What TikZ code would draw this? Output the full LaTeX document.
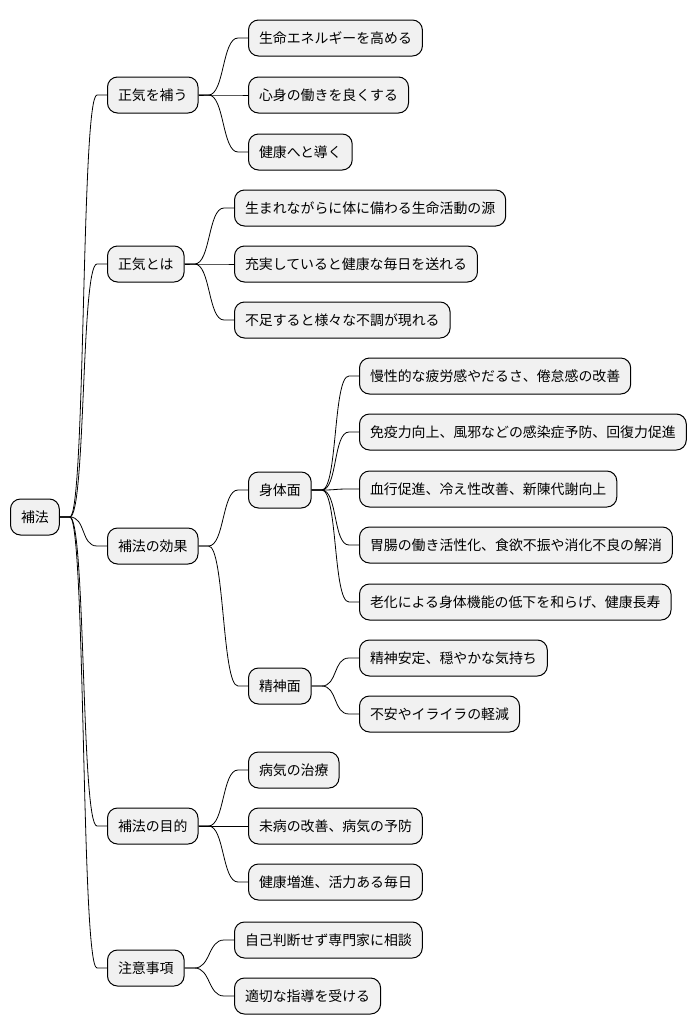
\documentclass[tikz,border=0pt]{standalone}
\usepackage{fontspec}
\newfontfamily\jpfont{Noto Sans CJK JP}
\usepackage{xcolor}
\usepackage{tikz}
\usetikzlibrary{calc}
\definecolor{boxgray}{RGB}{241,241,241}

\begin{document}
\begin{tikzpicture}[x=1pt,y=-1pt,font=\jpfont\fontsize{13.9}{16}\selectfont,
  topic/.style={draw,fill=boxgray,line width=1pt,rounded corners=10pt,minimum height=36pt,inner xsep=10.5pt,anchor=west},
  branch/.style={line width=0.8pt,to path={-- ++(10,0) .. controls +(16,0) and ($(\tikztotarget)+(-26,0)$) .. ($(\tikztotarget)+(-10,0)$) -- (\tikztotarget)}}]
  \useasboundingbox (0,0) rectangle (698,1034);
  % root and first level
  \node[topic] (root) at (10,517) {補法};
  \foreach \n/\y/\t in {qi/95/正気を補う,def/264/正気とは,eff/546/補法の効果,aim/826/補法の目的,care/968/注意事項}{
    \node[topic] (\n) at (107,\y) {\t};}
  % second level
  \foreach \n/\x/\y/\t in {qi1/248/38/生命エネルギーを高める,qi2/248/95/心身の働きを良くする,qi3/248/152/健康へと導く,
    def1/234/208/生まれながらに体に備わる生命活動の源,def2/234/264/充実していると健康な毎日を送れる,def3/234/320/不足すると様々な不調が現れる,
    body/248/490/身体面,mind/248/686/精神面,
    aim1/248/770/病気の治療,aim2/248/826/未病の改善、病気の予防,aim3/248/882/健康増進、活力ある毎日,
    care1/234/940/自己判断せず専門家に相談,care2/234/996/適切な指導を受ける}{
    \node[topic] (\n) at (\x,\y) {\t};}
  % third level
  \foreach \n/\y/\t in {body1/376/慢性的な疲労感やだるさ、倦怠感の改善,body2/432/免疫力向上、風邪などの感染症予防、回復力促進,
    body3/489/血行促進、冷え性改善、新陳代謝向上,body4/545/胃腸の働き活性化、食欲不振や消化不良の解消,
    body5/602/老化による身体機能の低下を和らげ、健康長寿,mind1/658/精神安定、穏やかな気持ち,mind2/714/不安やイライラの軽減}{
    \node[topic] (\n) at (359,\y) {\t};}
  \foreach \a/\b in {root/qi,root/def,root/eff,root/aim,root/care,qi/qi1,qi/qi2,qi/qi3,def/def1,def/def2,def/def3,
    eff/body,eff/mind,aim/aim1,aim/aim2,aim/aim3,care/care1,care/care2,
    body/body1,body/body2,body/body3,body/body4,body/body5,mind/mind1,mind/mind2}{
    \draw[branch] (\a.east) to (\b.west);}
\end{tikzpicture}
\end{document}
